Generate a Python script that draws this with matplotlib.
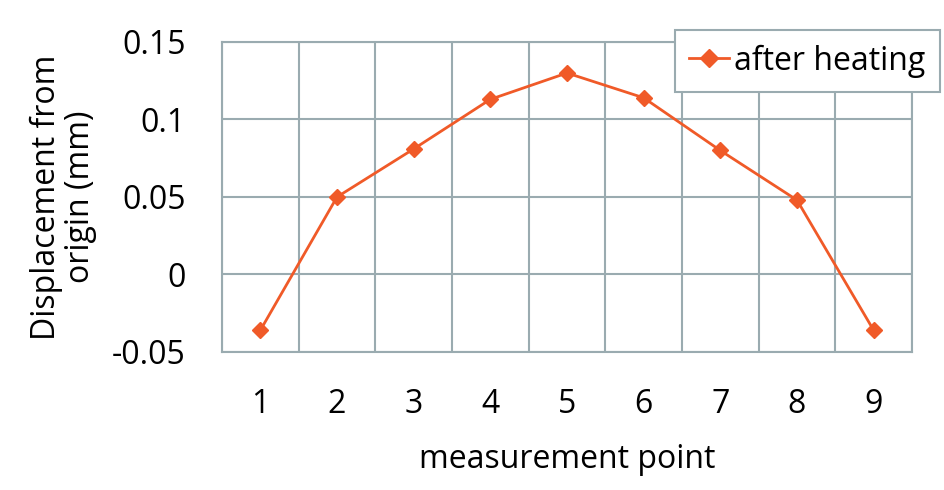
import numpy as np
import matplotlib.pyplot as plt

plt.rcParams['font.family'] = ['Open Sans', 'DejaVu Sans']

points = [1, 2, 3, 4, 5, 6, 7, 8, 9]
after_heating = [-0.036, 0.050, 0.081, 0.113, 0.130, 0.114, 0.080, 0.048, -0.036]
yticks = [-0.05, 0, 0.05, 0.1, 0.15]
ytick_labels = ['-0.05', '0', '0.05', '0.1', '0.15']

line_color = '#f05a28'
grid_color = '#9aabb0'

fig = plt.figure(figsize=(9.45, 4.9), dpi=100)
ax = fig.add_axes([222 / 945, 1 - 352 / 490, 690 / 945, 310 / 490])

ax.plot(points, after_heating, color=line_color, linewidth=2, marker='D',
        markersize=8, label='after heating')

ax.set_xlim(0.5, 9.5)
ax.set_ylim(-0.05, 0.15)
ax.set_xticks(np.arange(0.5, 10, 1), minor=False)
ax.set_xticklabels([])
ax.set_xticks(points, minor=True)
ax.set_xticklabels([str(p) for p in points], minor=True)
ax.set_yticks(yticks)
ax.set_yticklabels(ytick_labels)
ax.tick_params(axis='both', which='both', length=0, labelsize=23)
ax.tick_params(axis='x', which='minor', pad=26)
ax.tick_params(axis='y', pad=26)
ax.grid(True, which='major', color=grid_color, linewidth=1.5)
for s in ax.spines.values():
    s.set_color(grid_color)
    s.set_linewidth(1.5)

ax.set_xlabel('measurement point', fontsize=23, labelpad=16)
ax.set_ylabel('Displacement from\norigin (mm)', fontsize=23, labelpad=11,
              linespacing=1.05)

leg = fig.legend(loc='upper left', bbox_to_anchor=(675 / 945, 1 - 30 / 490),
                 fontsize=23, frameon=True, fancybox=False, borderpad=0.45,
                 handlelength=1.25, handletextpad=0.15, borderaxespad=0,
                 markerscale=1.2)
leg.get_frame().set_edgecolor(grid_color)
leg.get_frame().set_linewidth(1.5)
leg.get_frame().set_alpha(1)

fig.savefig('out.png', dpi=100)
